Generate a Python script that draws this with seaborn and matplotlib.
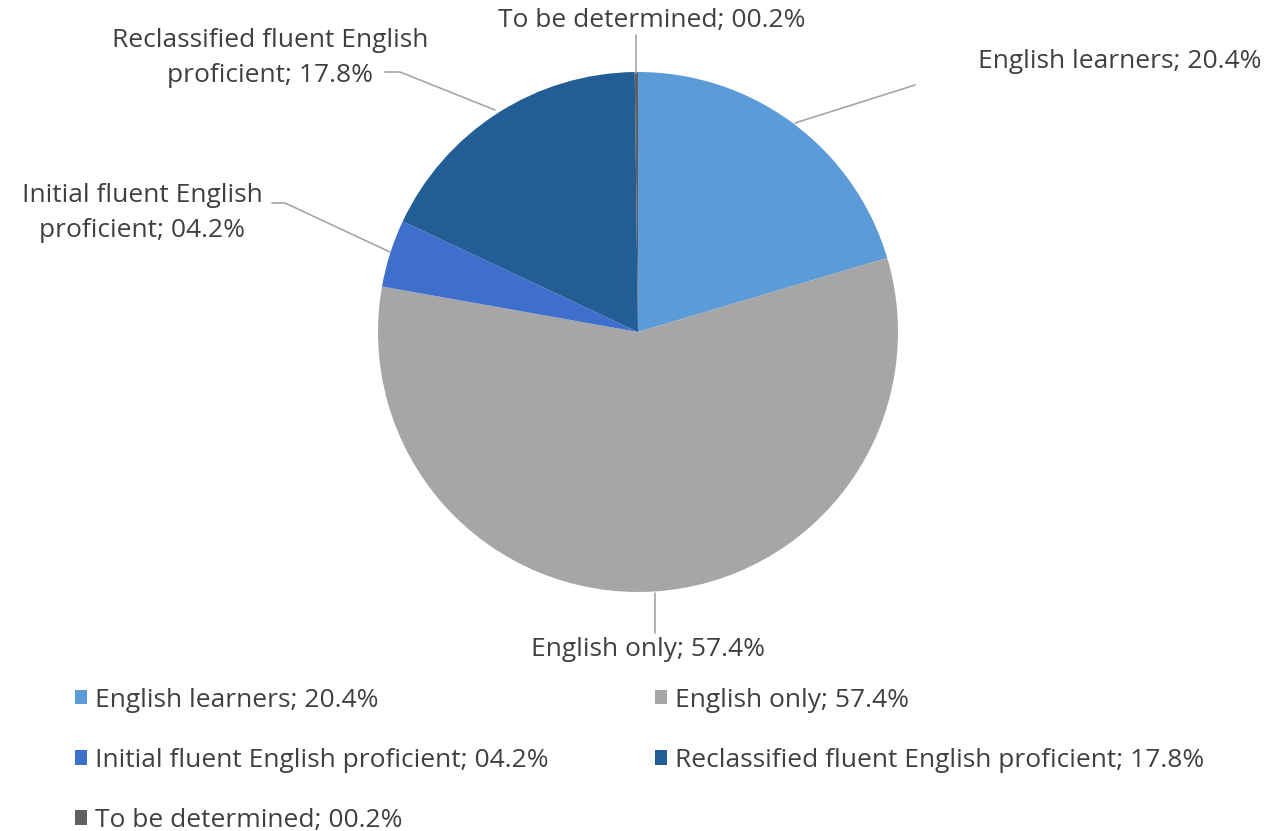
import numpy as np
import seaborn as sns
import matplotlib.pyplot as plt
from matplotlib.patches import Patch


# Chart data (clockwise from 12 o'clock)
CATEGORIES = [
    "English learners",
    "English only",
    "Initial fluent English proficient",
    "Reclassified fluent English proficient",
    "To be determined",
]
SHARES = [20.4, 57.4, 4.2, 17.8, 0.2]
SHARE_LABELS = ["20.4%", "57.4%", "04.2%", "17.8%", "00.2%"]
# wrapped text for the callouts next to the pie
CALLOUT_TEXT = [
    "English learners; 20.4%",
    "English only; 57.4%",
    "Initial fluent English\nproficient; 04.2%",
    "Reclassified fluent English\nproficient; 17.8%",
    "To be determined; 00.2%",
]
COLORS = ["#5b9bd8", "#a6a6a6", "#3e6fcc", "#235d95", "#5f5f5f"]

TEXT_COLOR = "#404040"
LINE_COLOR = "#a6a6a6"
FONT_SIZE = 19

# pixel geometry of the reference (1268x831)
W, H = 1268, 831
CX, CY, R = 638, 332, 260


def px(x, y):
    # pixel coords -> pie data coords (radius 1)
    return (x - CX) / R, (CY - y) / R


def draw_pie():
    sns.set_theme(style="white")
    plt.rcParams["font.family"] = ["Open Sans", "DejaVu Sans"]

    fig = plt.figure(figsize=(W / 100, H / 100), dpi=100)
    ax = fig.add_axes([(CX - R) / W, (H - CY - R) / H, 2 * R / W, 2 * R / H])

    wedges, _ = ax.pie(
        SHARES,
        colors=COLORS,
        startangle=90,
        counterclock=False,
        radius=1,
        wedgeprops=dict(linewidth=0),
    )
    ax.set_xlim(-1, 1)
    ax.set_ylim(-1, 1)
    ax.set_aspect("equal")
    ax.axis("off")

    # callout lines: (points of the leader line in px), text centre px
    callouts = [
        ([(795, 123), (915, 85)], (1120, 61)),
        ([(655, 593), (655, 633)], (648, 649)),
        ([(390, 252), (285, 203), (272, 203)], (142, 213)),
        ([(495, 110), (400, 72), (385, 72)], (270, 58)),
        ([(636, 73), (636, 35)], (652, 21)),
    ]
    for text, (pts, (tx, ty)) in zip(CALLOUT_TEXT, callouts):
        xs, ys = zip(*[px(x, y) for x, y in pts])
        ax.plot(xs, ys, color=LINE_COLOR, lw=1.2, clip_on=False)
        dx, dy = px(tx, ty)
        ax.text(dx, dy, text, ha="center", va="center", fontsize=FONT_SIZE,
                color=TEXT_COLOR, linespacing=1.55, clip_on=False)

    # legend in row-major order for two columns
    handles = [Patch(facecolor=c, edgecolor="none") for c in COLORS]
    labels = [f"{c}; {s}" for c, s in zip(CATEGORIES, SHARE_LABELS)]
    order = [0, 2, 4, 1, 3]
    fig.legend(
        [handles[i] for i in order],
        [labels[i] for i in order],
        ncol=2,
        loc="upper left",
        bbox_to_anchor=(51 / W, 1 - 664 / H),
        frameon=False,
        fontsize=FONT_SIZE,
        labelcolor=TEXT_COLOR,
        handlelength=0.45,
        handleheight=0.45,
        handletextpad=0.3,
        labelspacing=1.33,
        columnspacing=4.05,
    )

    fig.savefig("out.png", dpi=100)


def main():
    draw_pie()


if __name__ == "__main__":
    main()
